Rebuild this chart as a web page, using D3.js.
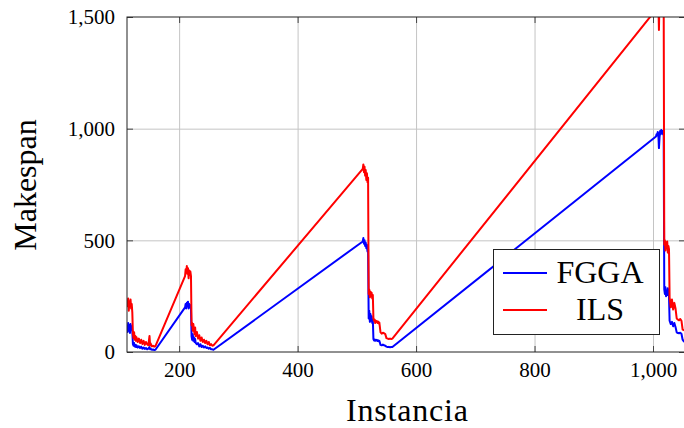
<!DOCTYPE html>
<html>
<head>
<meta charset="utf-8">
<script src="https://cdn.jsdelivr.net/npm/d3@7"></script>
<style>
  body { margin: 0; background: #fff; }
  svg { display: block; }
  text { font-family: "Liberation Serif", "Times New Roman", serif; fill: #000; }
  .tick text { font-family: "Liberation Serif", serif !important; font-size: 21px !important; }
</style>
</head>
<body>
<script>
// instancia (eje x), compartida por las dos series
var instancias = [
  112,113,114,115,116,117,118,119,120,121, 122,123,124,125,126,127,128,
  130,132,134,136,138,140,142,144,146,148,150, 151,152,154,156,158,160,
  210,211,212,213,214,215,216,217,218,219,220, 221,222,223,224,225,226,227,228,
  230,232,234,236,238,240,242,244,246,248,250,252,254,256,258,
  510,511,512,513,514,515,516,517,518,519,
  520,521,522,523,524,525,526,527, 528,529,530,531,532,533,534,535,536,537,538,
  540,542,544,546,548, 550,552,554,556,558,560,
  1005,1006,1007,1008,1009,1010,1011,1012,1013,1014,1015,1016,1017,1018,
  1019,1020,1021,1022,1023,1024,1025,1026,1027,
  1028,1030,1032,1034,1036,1038, 1040,1042,1044,1046,1048, 1050,1052,1054
];
var fgga = [
  110,90,130,95,120,85,125,100,115,92, 35,28,40,25,32,22,30,
  20,26,18,24,15,20,14,18,12,15,22, 12,14,10,11,9,10,
  200,215,195,220,205,225,195,215,200,210,190, 70,55,80,50,65,45,58,40,
  35,40,25,35,22,28,20,25,18,20,15,18,12,12,10,
  495,510,485,500,475,490,465,480,450,460,
  150,185,135,170,140,160,130,145, 58,52,56,50,55,52,54,50,52,48,50,
  32,30,33,30,28, 24,22,23,21,22,22,
  965,975,970,985,975,913,960,990,975,994,980,990,975,985,
  280,260,290,250,275,255,285,265,248,
  140,125,135,115,130,112, 88,85,84,86,82, 55,48,45
];
var ils = [
  230,205,240,185,225,210,235,195,215,175, 80,62,88,55,72,50,66,
  45,60,40,55,36,50,32,45,35,30,72, 30,38,25,28,24,26,
  340,370,355,385,350,375,330,365,345,360,340, 120,130,95,125,100,80,110,70,
  90,60,75,50,65,45,55,40,50,35,45,30,35,28,30,
  820,840,805,830,790,815,770,800,760,780,
  260,280,245,270,250,265,240,255, 150,140,145,130,140,135,138,130,136,128,132,
  88,82,86,84,80, 62,60,58,60,58,60,
  1533,1580,1560,1600,1570,1442,1590,1620,1585,1610,1560,1600,1580,1595,
  480,500,455,490,470,495,445,475,460,
  245,200,235,190,220,195, 150,145,142,148,140, 100,98,96
];
var xTicks = [200, 400, 600, 800, 1000];
var yTicks = [0, 500, 1000, 1500];
var seriesNames = ["FGGA", "ILS"];
var seriesColors = ["#0000ff", "#ff0000"];

var W = 684, H = 428;
var plotL = 127, plotR = 685, plotT = 17, plotB = 352;
var pw = plotR - plotL, ph = plotB - plotT;

var svg = d3.select("body").append("svg").attr("width", W).attr("height", H);

var x = d3.scaleLinear().domain([112, 1054]).range([0, pw]);
var y = d3.scaleLinear().domain([0, 1500]).range([ph, 0]);

var g = svg.append("g").attr("transform", "translate(" + plotL + "," + plotT + ")");

// grid
g.append("g").attr("transform", "translate(0," + ph + ")")
  .call(d3.axisBottom(x).tickValues(xTicks).tickSize(-ph).tickFormat(""))
  .call(function(s) { s.select(".domain").remove(); s.selectAll("line").attr("stroke", "#c4c4c4"); });
g.append("g")
  .call(d3.axisLeft(y).tickValues([500, 1000]).tickSize(-pw).tickFormat(""))
  .call(function(s) { s.select(".domain").remove(); s.selectAll("line").attr("stroke", "#c4c4c4"); });

// lines
g.append("clipPath").attr("id", "clip").append("rect").attr("width", pw).attr("height", ph);
var line = d3.line().x(function(d) { return x(d[0]); }).y(function(d) { return y(d[1]); });
var series = [fgga, ils];
series.forEach(function(vals, k) {
  var pts = instancias.map(function(xi, i) { return [xi, vals[i]]; });
  g.append("path").datum(pts)
    .attr("clip-path", "url(#clip)")
    .attr("fill", "none")
    .attr("stroke", seriesColors[k])
    .attr("stroke-width", 2)
    .attr("stroke-linejoin", "round")
    .attr("d", line);
});

// axes with inward ticks
function styleAxis(s) {
  s.attr("font-family", null).attr("font-size", null);
  s.select(".domain").remove();
  s.selectAll("line").attr("stroke", "#444");
  s.selectAll("text").attr("fill", "#000");
}
g.append("g").attr("transform", "translate(0," + ph + ")")
  .call(d3.axisBottom(x).tickValues(xTicks).tickSize(-6).tickPadding(10).tickFormat(d3.format(",")))
  .call(styleAxis);
g.append("g")
  .call(d3.axisTop(x).tickValues(xTicks).tickSize(-6).tickFormat(""))
  .call(styleAxis);
g.append("g")
  .call(d3.axisLeft(y).tickValues(yTicks).tickSize(-6).tickPadding(12).tickFormat(d3.format(",")))
  .call(styleAxis);
g.append("g").attr("transform", "translate(" + pw + ",0)")
  .call(d3.axisRight(y).tickValues(yTicks).tickSize(-6).tickFormat(""))
  .call(styleAxis);

// frame
g.append("rect").attr("width", pw).attr("height", ph)
  .attr("fill", "none").attr("stroke", "#222").attr("stroke-width", 1);

// axis labels
svg.append("text").attr("x", 407).attr("y", 421).attr("text-anchor", "middle")
  .style("font-size", "32px").attr("textLength", 122).text("Instancia");
svg.append("text").attr("transform", "translate(36,185) rotate(-90)").attr("text-anchor", "middle")
  .style("font-size", "32px").text("Makespan");

// legend
var lg = svg.append("g").attr("transform", "translate(493,249)");
lg.append("rect").attr("x", 0.5).attr("y", 0.5).attr("width", 166).attr("height", 85)
  .attr("fill", "#fff").attr("stroke", "#222").attr("stroke-width", 1);
seriesNames.forEach(function(name, k) {
  var yy = 24 + k * 37;
  lg.append("line").attr("x1", 10).attr("x2", 54).attr("y1", yy).attr("y2", yy)
    .attr("stroke", seriesColors[k]).attr("stroke-width", 2);
  lg.append("text").attr("x", 107).attr("y", yy + 10).attr("text-anchor", "middle")
    .style("font-size", "32px").text(name);
});
</script>
</body>
</html>
